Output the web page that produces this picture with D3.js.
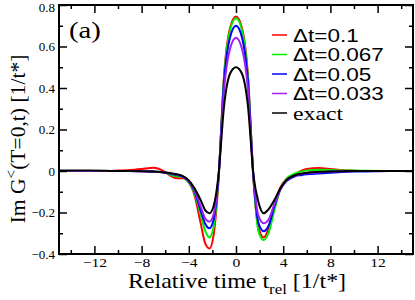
<!DOCTYPE html>
<html>
<head>
<meta charset="UTF-8">
<title>Im G lesser</title>
<script src="https://d3js.org/d3.v7.min.js"></script>
<style>
body { margin: 0; background: #fff; }
svg { display: block; }
.serif { font-family: "Liberation Serif", "Times New Roman", serif; }
.sans { font-family: "Liberation Sans", Arial, sans-serif; }
</style>
</head>
<body>
<svg id="chart" width="415" height="300"></svg>
<script>
// time grid (1/t*)
var tGrid = [-15,-13,-11,-10,-9,-8,-7,-6,-5.5,-5,-4.5,-4,-3.5,-3,-2.6,-2.25,-1.9,-1.5,-1,-0.5,0,
             0.5,1,1.5,1.9,2.35,2.75,3.25,3.75,4.25,5,5.5,6,7,8,9,10,11,13,15];

var dt01   = [0,0,0,0.002,0.005,0.01,0.016,-0.005,-0.025,-0.035,-0.035,-0.055,-0.12,-0.25,-0.35,-0.373,-0.31,-0.06,0.47,0.69,0.745,
              0.69,0.47,-0.06,-0.27,-0.32,-0.28,-0.17,-0.08,-0.04,-0.015,0,0.01,0.014,0.01,0.004,0.001,0,0,0];
var dt0067 = [0,0,0,0,0,0,-0.002,-0.008,-0.02,-0.025,-0.03,-0.055,-0.11,-0.21,-0.29,-0.32,-0.27,-0.05,0.46,0.68,0.736,
              0.68,0.46,-0.05,-0.29,-0.333,-0.30,-0.19,-0.09,-0.04,-0.012,-0.003,0.003,0.006,0.005,0.003,0.002,0.001,0,0];
var dt005  = [0,0,0,0,0,-0.001,-0.003,-0.008,-0.014,-0.02,-0.028,-0.05,-0.10,-0.19,-0.255,-0.276,-0.235,-0.045,0.44,0.645,0.70,
              0.645,0.44,-0.045,-0.25,-0.29,-0.265,-0.17,-0.09,-0.05,-0.025,-0.02,-0.016,-0.012,-0.008,-0.005,-0.003,-0.002,0,0];
var dt0033 = [0,0,0,0,0,-0.001,-0.003,-0.007,-0.012,-0.018,-0.027,-0.048,-0.095,-0.17,-0.23,-0.244,-0.21,-0.04,0.40,0.59,0.642,
              0.59,0.40,-0.04,-0.215,-0.252,-0.235,-0.16,-0.09,-0.048,-0.022,-0.015,-0.01,-0.006,-0.003,-0.001,0,0,0,0];
var exact  = [0.002,0.002,0.001,0,0,-0.001,-0.003,-0.007,-0.011,-0.016,-0.025,-0.045,-0.085,-0.14,-0.19,-0.204,-0.17,-0.03,0.32,0.47,0.50,
              0.47,0.32,-0.03,-0.15,-0.204,-0.185,-0.14,-0.085,-0.045,-0.02,-0.013,-0.008,-0.004,-0.002,-0.001,0,0,0,0];

var seriesNames = ["\u0394t=0.1", "\u0394t=0.067", "\u0394t=0.05", "\u0394t=0.033", "exact"];
var seriesVals = [dt01, dt0067, dt005, dt0033, exact];
var colors = ["#ff0000", "#00ee00", "#0000ff", "#a020f0", "#000000"];

var xMajor = [-12,-8,-4,0,4,8,12];
var xMinor = [-14,-10,-6,-2,2,6,10,14];
var yMajor = [-0.4,-0.2,0,0.2,0.4,0.6,0.8];
var yMinor = [-0.3,-0.1,0.1,0.3,0.5,0.7];

var pL = 59, pR = 413, pT = 5, pB = 254;
var sx = 1.25; // the source image text is horizontally stretched

var svg = d3.select("#chart");
var x = d3.scaleLinear().domain([-15, 15]).range([pL, pR]);
var y = d3.scaleLinear().domain([-0.4, 0.8]).range([pB, pT]);

svg.append("clipPath").attr("id", "clip").append("rect")
  .attr("x", pL).attr("y", pT).attr("width", pR - pL).attr("height", pB - pT);

// curves
var line = d3.line().x(function(d){ return x(d[0]); }).y(function(d){ return y(d[1]); })
  .curve(d3.curveMonotoneX);
var plot = svg.append("g").attr("clip-path", "url(#clip)");
for (var i = 0; i < seriesVals.length; i++) {
  var pts = tGrid.map(function(t, k){ return [t, seriesVals[i][k]]; });
  plot.append("path").attr("d", line(pts)).attr("fill", "none")
    .attr("stroke", colors[i]).attr("stroke-width", 2);
}

// axes, ticks pointing in
function styleAxis(g) {
  g.select(".domain").remove();
  g.selectAll(".tick line").attr("stroke", "#000").attr("stroke-width", 1.5);
}
svg.append("g").attr("transform", "translate(0," + pB + ")")
  .call(d3.axisBottom(x).tickValues(xMajor).tickSize(-8).tickFormat(d3.format("d")).tickPadding(4))
  .call(styleAxis)
  .call(function(g){
    g.selectAll("text").attr("class", "serif").attr("font-size", 12.5).attr("fill", "#000")
      .attr("font-family", null)
      .attr("transform", "scale(" + sx + ",1)");
  });
svg.append("g").attr("transform", "translate(0," + pB + ")")
  .call(d3.axisBottom(x).tickValues(xMinor).tickSize(-4).tickFormat("")).call(styleAxis);
svg.append("g").attr("transform", "translate(0," + pT + ")")
  .call(d3.axisTop(x).tickValues(xMajor).tickSize(-8).tickFormat("")).call(styleAxis);
svg.append("g").attr("transform", "translate(0," + pT + ")")
  .call(d3.axisTop(x).tickValues(xMinor).tickSize(-4).tickFormat("")).call(styleAxis);

svg.append("g").attr("transform", "translate(" + pL + ",0)")
  .call(d3.axisLeft(y).tickValues(yMajor).tickSize(-8).tickPadding(4)
    .tickFormat(function(d){ return d === 0 ? "0" : d3.format(".1f")(d); }))
  .call(styleAxis)
  .call(function(g){
    g.selectAll("text").attr("class", "serif").attr("font-size", 13).attr("fill", "#000")
      .attr("font-family", null)
      .attr("dy", function(d){ return d === 0.8 ? "0.5em" : "0.32em"; });
  });
svg.append("g").attr("transform", "translate(" + pL + ",0)")
  .call(d3.axisLeft(y).tickValues(yMinor).tickSize(-4).tickFormat("")).call(styleAxis);
svg.append("g").attr("transform", "translate(" + pR + ",0)")
  .call(d3.axisRight(y).tickValues(yMajor).tickSize(-8).tickFormat("")).call(styleAxis);
svg.append("g").attr("transform", "translate(" + pR + ",0)")
  .call(d3.axisRight(y).tickValues(yMinor).tickSize(-4).tickFormat("")).call(styleAxis);

// frame
svg.append("rect").attr("x", pL).attr("y", pT).attr("width", pR - pL).attr("height", pB - pT)
  .attr("fill", "none").attr("stroke", "#000").attr("stroke-width", 2);

function stretchText(px, py, txt, cls, size, anchor) {
  return svg.append("text").attr("class", cls).attr("font-size", size)
    .attr("text-anchor", anchor || "start")
    .attr("transform", "translate(" + px + "," + py + ") scale(" + sx + ",1)")
    .text(txt);
}

// panel label
stretchText(69, 38, "(a)", "serif", 23);

// legend
var legY = [35, 54.5, 74, 93.5, 113];
for (var j = 0; j < seriesNames.length; j++) {
  svg.append("line").attr("x1", 272).attr("x2", 287).attr("y1", legY[j]).attr("y2", legY[j])
    .attr("stroke", colors[j]).attr("stroke-width", 1.5);
  stretchText(293, legY[j] + 6.5, seriesNames[j], j < 4 ? "sans" : "serif", j < 4 ? 18 : 19);
}

// x label with subscript
var xl = svg.append("text").attr("class", "serif").attr("font-size", 20).attr("text-anchor", "middle")
  .attr("transform", "translate(237,288) scale(1.2,1)");
xl.append("tspan").text("Relative time t");
xl.append("tspan").attr("font-size", 14).attr("dy", 6).text("rel");
xl.append("tspan").attr("dy", -6).text(" [1/t*]");

// y label with superscript
var yl = svg.append("text").attr("class", "serif").attr("font-size", 20).attr("text-anchor", "middle")
  .attr("transform", "translate(25,139) rotate(-90) scale(1.08,1)");
yl.append("tspan").text("Im G");
yl.append("tspan").attr("font-size", 14).attr("dy", -9).text("<");
yl.append("tspan").attr("dy", 9).text("(T=0,t) [1/t*]");
</script>
</body>
</html>
